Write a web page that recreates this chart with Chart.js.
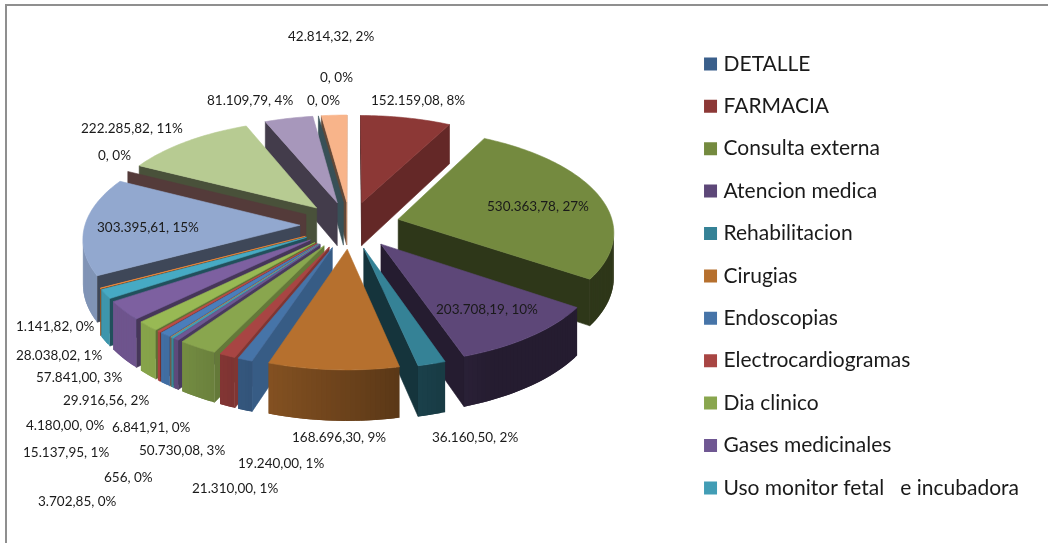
<!DOCTYPE html>
<html lang="es">
<head>
  <meta charset="UTF-8" />
  <title>Ingresos por servicio</title>
  <script src="https://cdn.jsdelivr.net/npm/chart.js"></script>
  <style>
    html, body { margin: 0; padding: 0; background: #fff; }
    #wrap { position: relative; width: 1048px; height: 543px; overflow: hidden; }
    canvas { display: block; }
  </style>
</head>
<body>
  <div id="wrap"><canvas id="pieCanvas" width="1048" height="543"></canvas></div>

  <script>
    // only the first 11 names are visible in the original legend
    const categories = ["DETALLE", "FARMACIA", "Consulta externa", "Atencion medica", "Rehabilitacion", "Cirugias",
      "Endoscopias", "Electrocardiogramas", "Dia clinico", "Gases medicinales", "Uso monitor fetal   e incubadora"];

    const values = [0, 152159.08, 530363.78, 203708.19, 36160.50, 168696.30,
      19240.00, 21310.00, 50730.08, 6841.91, 3702.85, 656,
      15137.95, 4180.00, 29916.56, 57841.00, 28038.02, 1141.82,
      303395.61, 0, 222285.82, 81109.79, 0, 42814.32];

    const colors = ["#3A5F8B", "#8C3836", "#748A3F", "#5D4778", "#358296", "#B6702E",
      "#4674A8", "#A84543", "#89A64E", "#6F5792", "#429DB5", "#DA8137",
      "#4A7EBB", "#BE4B48", "#98B954", "#7D60A0", "#46AAC4", "#F58F3F",
      "#92A8CF", "#D19392", "#B7CB92", "#A797BB", "#8CC9DA", "#F8B48A"];

    // the value labels were dragged by hand in the original: [left, middle y]
    const labelSpots = [[320, 78], [371, 101], [487, 207], [436, 310], [432, 438], [292, 438],
      [238, 464], [192, 489], [139, 451], [112, 428], [38, 502], [104, 478],
      [23, 453], [26, 426], [63, 401], [36, 378], [16, 356], [16, 327],
      [97, 228], [98, 156], [81, 129], [207, 101], [307, 101], [288, 37]];

    // tilted pie: x/y of the pie centre, radius, explosion, wall height, tilt, perspective
    const CX = 350, CY = 225, R = 215, EXPLODE = 50, WALL = 44, TILT = 0.472, DEPTH = 1934;

    function project(x, z, h) {
      const p = 1 / (1 + z / DEPTH);
      return [CX + x * p, CY - z * TILT * p + h * WALL * p];
    }

    function shade(hex, f) {
      const n = parseInt(hex.slice(1), 16);
      return `rgb(${Math.round((n >> 16) * f)},${Math.round(((n >> 8) & 255) * f)},${Math.round((n & 255) * f)})`;
    }

    function polyArea(pts) {
      let s = 0;
      pts.forEach((p, i) => {
        const q = pts[(i + 1) % pts.length];
        s += p[0] * q[1] - q[0] * p[1];
      });
      return s;
    }

    function fillPoly(ctx, pts, color, edge) {
      ctx.beginPath();
      pts.forEach((p, i) => i ? ctx.lineTo(p[0], p[1]) : ctx.moveTo(p[0], p[1]));
      ctx.closePath();
      ctx.fillStyle = color;
      ctx.fill();
      if (edge) {
        ctx.strokeStyle = color;
        ctx.lineWidth = 0.6;
        ctx.stroke();
      }
    }

    function deg(t) { return ((t * 180 / Math.PI) % 360 + 360) % 360; }
    function clamp(v, a, b) { return Math.min(b, Math.max(a, v)); }

    // angles are the ones the doughnut controller worked out for each arc
    function drawSlice(ctx, arc, color) {
      const a0 = arc.startAngle + Math.PI / 2, a1 = arc.endAngle + Math.PI / 2, mid = (a0 + a1) / 2;
      const ax = EXPLODE * Math.sin(mid), az = EXPLODE * Math.cos(mid);
      const rim = [];
      const steps = Math.max(1, Math.ceil((a1 - a0) / 0.02));
      for (let i = 0; i <= steps; i++) {
        const t = a0 + (a1 - a0) * i / steps;
        rim.push({ t, x: ax + R * Math.sin(t), z: az + R * Math.cos(t) });
      }
      const first = rim[0], last = rim[rim.length - 1];

      // radial walls, only the ones that face the viewer
      const startWall = [project(ax, az, 0), project(first.x, first.z, 0), project(first.x, first.z, 1), project(ax, az, 1)];
      const endWall = [project(ax, az, 0), project(last.x, last.z, 0), project(last.x, last.z, 1), project(ax, az, 1)];
      if (polyArea(startWall) < 0) fillPoly(ctx, startWall, shade(color, clamp(0.72 - (deg(a0 - Math.PI / 2) - 117) * 0.0085, 0.4, 0.8)), true);
      if (polyArea(endWall) > 0) fillPoly(ctx, endWall, shade(color, clamp(0.72 - (deg(a1 + Math.PI / 2) - 117) * 0.0085, 0.4, 0.8)), true);

      // outer wall, lit from the left; each strip runs under the next one to hide seams
      for (let i = 0; i < rim.length - 1; i++) {
        const u = rim[i], v = rim[i + 1], w = rim[Math.min(i + 2, rim.length - 1)];
        const quad = [project(u.x, u.z, 0), project(w.x, w.z, 0), project(w.x, w.z, 1), project(u.x, u.z, 1)];
        if (polyArea([project(u.x, u.z, 0), project(v.x, v.z, 0), project(v.x, v.z, 1), project(u.x, u.z, 1)]) >= 0) continue;
        fillPoly(ctx, quad, shade(color, clamp(0.5 + (deg((u.t + v.t) / 2) - 168) * 0.0073, 0.4, 0.88)), false);
      }

      if (a1 > a0) fillPoly(ctx, [project(ax, az, 0)].concat(rim.map(p => project(p.x, p.z, 0))), color, true);
    }

    function valueText(v, total) {
      const pct = Math.round(v / total * 100) + "%";
      if (Number.isInteger(v) && v < 1000) return `${v}, ${pct}`;
      const [whole, dec] = v.toFixed(2).split(".");
      return `${whole.replace(/\B(?=(\d{3})+$)/g, ".")},${dec}, ${pct}`;
    }

    const pie3d = {
      id: "pie3d",
      beforeDraw(chart) {
        // frame of the pasted chart, top and left edges only
        const ctx = chart.ctx;
        ctx.fillStyle = "#8f8f8f";
        ctx.fillRect(5, 4, chart.width - 5, 2);
        ctx.fillRect(5, 4, 2, chart.height - 4);
      },
      beforeDatasetDraw(chart, args) {
        const ctx = chart.ctx;
        const arcs = args.meta.data.map((arc, i) => ({ arc, i }));
        // paint from the back of the pie to the front
        arcs.sort((a, b) => Math.cos((b.arc.startAngle + b.arc.endAngle) / 2 + Math.PI / 2) - Math.cos((a.arc.startAngle + a.arc.endAngle) / 2 + Math.PI / 2));
        arcs.forEach(o => drawSlice(ctx, o.arc, colors[o.i]));
        return false;
      },
      afterDraw(chart) {
        const ctx = chart.ctx;
        const total = values.reduce((a, b) => a + b, 0);
        ctx.font = "13.5px Lato";
        ctx.fillStyle = "#1a1a1a";
        ctx.textAlign = "left";
        ctx.textBaseline = "middle";
        values.forEach((v, i) => ctx.fillText(valueText(v, total), labelSpots[i][0], labelSpots[i][1]));
      }
    };

    new Chart(document.getElementById("pieCanvas"), {
      type: "pie",
      data: {
        labels: categories,
        datasets: [{ data: values, backgroundColor: colors, borderWidth: 0 }]
      },
      plugins: [pie3d],
      options: {
        responsive: false,
        animation: false,
        layout: { padding: { top: 32, right: 19 } },
        plugins: {
          tooltip: { enabled: false },
          legend: {
            position: "right",
            align: "start",
            labels: {
              // small box with a thick border keeps the text close to the 13px square
              boxWidth: 5,
              boxHeight: 5,
              padding: 21.4,
              color: "#1a1a1a",
              font: { family: "Lato", size: 21 },
              generateLabels(chart) {
                return categories.map((name, i) => ({
                  text: name, index: i, fillStyle: colors[i], strokeStyle: colors[i],
                  fontColor: "#1a1a1a", lineWidth: 8, lineJoin: "miter"
                }));
              }
            }
          }
        }
      }
    });
  </script>
</body>
</html>
